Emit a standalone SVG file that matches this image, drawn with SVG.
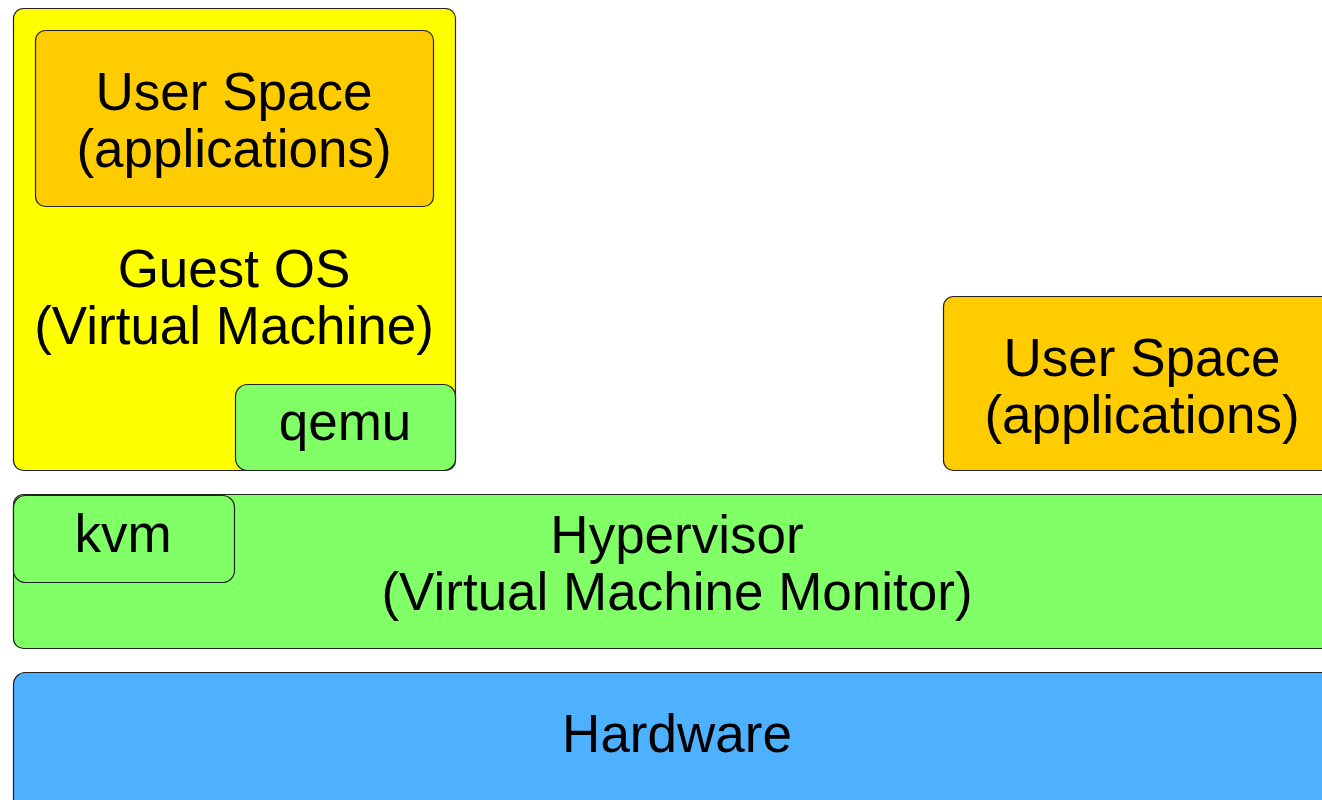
<svg xmlns="http://www.w3.org/2000/svg" width="1322" height="800" viewBox="0 0 1322 800">
<style>
.box{stroke:#222;stroke-width:1.2}
.t{font-family:"Liberation Sans",Arial,sans-serif;font-size:53px;fill:#000;text-anchor:middle}
</style>
<rect width="1322" height="800" fill="#fff"/>
<g id="guest-os">
<rect class="box" x="13.5" y="8.5" width="442" height="462" rx="10" fill="#ffff00"/>
<text class="t" x="234" y="287">Guest OS</text>
<text class="t" x="234" y="344">(Virtual Machine)</text>
</g>
<g id="guest-userspace">
<rect class="box" x="35.5" y="30.5" width="398" height="176" rx="10" fill="#ffcc00"/>
<text class="t" x="234" y="110">User Space</text>
<text class="t" x="234" y="167">(applications)</text>
</g>
<g id="qemu">
<rect class="box" x="235.5" y="384.5" width="220" height="86" rx="12" fill="#80ff66"/>
<text class="t" x="345" y="440">qemu</text>
</g>
<g id="host-userspace">
<rect class="box" x="943.5" y="296.5" width="400" height="174" rx="10" fill="#ffcc00"/>
<text class="t" x="1142" y="376">User Space</text>
<text class="t" x="1142" y="433">(applications)</text>
</g>
<g id="hypervisor">
<rect class="box" x="13.5" y="494.5" width="1340" height="154" rx="10" fill="#80ff66"/>
<text class="t" x="677" y="553">Hypervisor</text>
<text class="t" x="677" y="610">(Virtual Machine Monitor)</text>
</g>
<g id="kvm">
<rect class="box" x="13.5" y="495.5" width="221" height="87" rx="12" fill="#80ff66"/>
<text class="t" x="123" y="552">kvm</text>
</g>
<g id="hardware">
<rect class="box" x="13.5" y="672.5" width="1340" height="160" rx="12" fill="#4db1ff"/>
<text class="t" x="677" y="752">Hardware</text>
</g>
<g id="connectors"/>
</svg>
